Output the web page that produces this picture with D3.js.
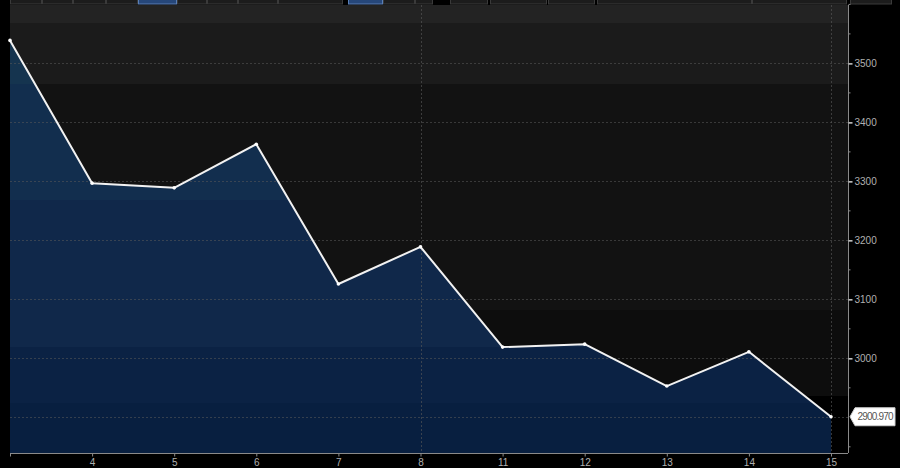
<!DOCTYPE html>
<html><head><meta charset="utf-8">
<script src="https://cdn.jsdelivr.net/npm/d3@7"></script>
<style>html,body{margin:0;padding:0;background:#000;overflow:hidden}svg{display:block}</style>
</head><body>
<svg id="chart" width="900" height="468"></svg>
<script>
// ---- data ----
const categories = ["1","4","5","6","7","8","11","12","13","14","15"];
const xTickLabels = ["","4","5","6","7","8","11","12","13","14","15"];
const values = [3539, 3297, 3289, 3363, 3126, 3189, 3019, 3024, 2953, 3011, 2900.97];
const yTicks = [3000, 3100, 3200, 3300, 3400, 3500];
const yMinorTicks = [2850, 2950, 3050, 3150, 3250, 3350, 3450, 3550, 3600];
const lastLabel = "2900.970";
const monthLabel = "Jun 2018";
const crosshairCategory = "8";

const svg = d3.select("#chart");
const W = 900, H = 468;
const L = 10, R = 848, T = 5, B = 453;
const FONT = "Liberation Sans, Arial, sans-serif";

const x = d3.scalePoint().domain(categories).range([L, 831]).padding(0);
const y = d3.scaleLinear().domain([2839.5, 3599]).range([B, T]);

svg.append("rect").attr("width", W).attr("height", H).attr("fill", "#000");

// background bands
const bands = [[T, 23, "#232323"], [23, 84, "#1b1b1b"], [84, 310, "#121212"], [310, 396, "#0d0d0d"], [396, B, "#000000"]];
svg.selectAll("rect.band").data(bands).join("rect").attr("class", "band")
  .attr("x", L).attr("width", R - L).attr("y", d => d[0]).attr("height", d => d[1] - d[0]).attr("fill", d => d[2]);

// toolbar strip
const btns = [[10,42],[42,73],[73,106],[106,138],[138,177,1],[177,207],[207,238],[238,278],[278,343],[348,383,1],[383,415],[415,433],[450,488],[490,547],[548,595],[597,752],[752,847],[850,892]];
svg.selectAll("rect.btn").data(btns).join("rect").attr("class", "btn")
  .attr("x", d => d[0] + 0.5).attr("y", -2).attr("width", d => d[1] - d[0] - 1).attr("height", 6)
  .attr("fill", d => d[2] ? "#26477a" : "#1c1c1c").attr("stroke", d => d[2] ? "#5a7fb5" : "#3a3a3a");

// area gradient
const defs = svg.append("defs");
const grad = defs.append("linearGradient").attr("id", "ag").attr("gradientUnits", "userSpaceOnUse")
  .attr("x1", 0).attr("x2", 0).attr("y1", T).attr("y2", B);
const fstops = [[T, 84, "#15344f"], [84, 200, "#122e4e"], [200, 347, "#10284a"], [347, 403, "#0b2244"], [403, B, "#081f40"]];
fstops.forEach(s => {
  grad.append("stop").attr("offset", (s[0] - T) / (B - T)).attr("stop-color", s[2]);
  grad.append("stop").attr("offset", (s[1] - T) / (B - T)).attr("stop-color", s[2]);
});

const data = categories.map((c, i) => ({c, v: values[i]}));
const area = d3.area().x(d => x(d.c)).y0(B).y1(d => y(d.v));
svg.append("path").datum(data).attr("d", area).attr("fill", "url(#ag)");

// gridlines
svg.selectAll("line.hg").data(yTicks.concat([2900.97])).join("line").attr("class", "hg")
  .attr("x1", L).attr("x2", R).attr("y1", d => Math.round(y(d)) + 0.5).attr("y2", d => Math.round(y(d)) + 0.5)
  .attr("stroke", "#5a5a5a").attr("stroke-opacity", 0.55).attr("stroke-dasharray", "2,2");
[crosshairCategory, "15"].forEach(c => {
  svg.append("line").attr("x1", Math.round(x(c)) + 0.5).attr("x2", Math.round(x(c)) + 0.5).attr("y1", T).attr("y2", B)
    .attr("stroke", "#5a5a5a").attr("stroke-opacity", 0.6).attr("stroke-dasharray", "2,2");
});

// line
const line = d3.line().x(d => x(d.c)).y(d => y(d.v));
svg.append("path").datum(data).attr("d", line).attr("fill", "none").attr("stroke", "#f2f2f2").attr("stroke-width", 2).attr("stroke-linejoin", "round");
svg.selectAll("circle.pt").data(data).join("circle").attr("class", "pt")
  .attr("cx", d => x(d.c)).attr("cy", d => y(d.v)).attr("r", 1.8).attr("fill", "#ffffff");

// y axis (right)
const yAxis = d3.axisRight(y).tickValues(yTicks).tickSize(4).tickPadding(2).tickFormat(d3.format("d"));
const gy = svg.append("g").attr("transform", `translate(${R + 0.5},0)`).call(yAxis);
gy.select(".domain").attr("d", `M0,${T}V${B}`).attr("stroke", "#8a8a8a");
gy.selectAll(".tick line").attr("stroke", "#d0d0d0").attr("stroke-width", 1.5);
gy.selectAll(".tick text").attr("fill", "#b0b0b0").attr("font-family", FONT).attr("font-size", 10);
gy.selectAll("line.minor").data(yMinorTicks).join("line").attr("class", "minor")
  .attr("x1", 0).attr("x2", 2).attr("y1", d => y(d)).attr("y2", d => y(d)).attr("stroke", "#8a8a8a");

// x axis
const xAxis = d3.axisBottom(x).tickSize(3).tickPadding(2).tickFormat((d, i) => xTickLabels[i]);
const gx = svg.append("g").attr("transform", `translate(0,${B + 0.5})`).call(xAxis);
gx.select(".domain").attr("d", `M${L},0H${R}`).attr("stroke", "#8a8a8a");
gx.selectAll(".tick line").attr("stroke", "#8a8a8a");
gx.selectAll(".tick text").attr("fill", "#b0b0b0").attr("font-family", FONT).attr("font-size", 10);

svg.append("text").attr("x", x(crosshairCategory) + 10).attr("y", 475).attr("text-anchor", "middle")
  .attr("fill", "#6a6a6a").attr("font-family", FONT).attr("font-size", 9).text(monthLabel);

// last value label
const ly = y(values[values.length - 1]);
const lx = R + 2;
svg.append("path")
  .attr("d", `M${lx},${ly} L${lx + 5},${ly - 9} H${lx + 45} V${ly + 9} H${lx + 5} Z`)
  .attr("fill", "#ffffff").attr("stroke", "#cfcfcf");
svg.append("text").attr("x", lx + 25.5).attr("y", ly + 3.5).attr("text-anchor", "middle")
  .attr("fill", "#555").attr("font-family", FONT).attr("font-size", 10).attr("textLength", 36).text(lastLabel);
</script>
</body></html>
